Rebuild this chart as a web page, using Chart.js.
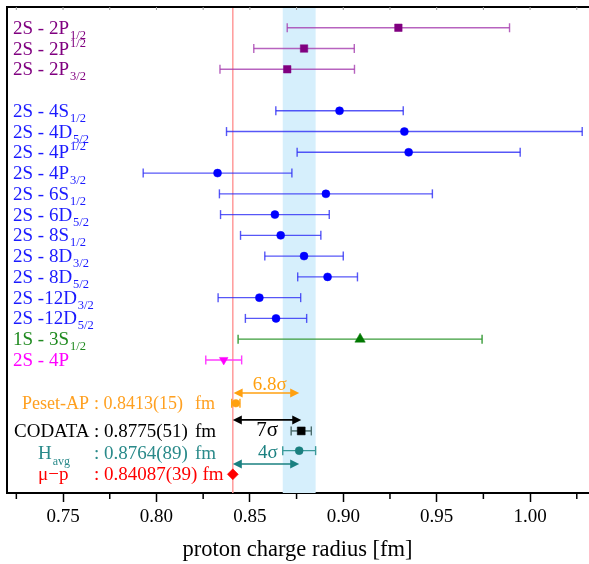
<!DOCTYPE html>
<html>
<head>
<meta charset="utf-8">
<script src="https://cdn.jsdelivr.net/npm/chart.js@4.4.1/dist/chart.umd.min.js"></script>
<style>
  body { margin: 0; background: #fff; }
  canvas { display: block; }
</style>
</head>
<body>
<canvas id="radius-chart" width="589" height="564"></canvas>
<script>
// transition rows (top part)
const rowNames = ['2S - 2P', '2S - 2P', '2S - 2P', '2S - 4S', '2S - 4D', '2S - 4P', '2S - 4P', '2S - 6S',
                  '2S - 6D', '2S - 8S', '2S - 8D', '2S - 8D', '2S -12D', '2S -12D', '1S - 3S', '2S - 4P'];
const rowSubs = ['1/2', '1/2', '3/2', '1/2', '5/2', '1/2', '3/2', '1/2', '5/2', '1/2', '3/2', '5/2', '3/2', '5/2', '1/2', ''];
const rowSubRaised = [false, true, false, false, false, true, false, false, false, false, false, false, false, false, false, false];
const rowSlots = [1, 2, 3, 5, 6, 7, 8, 9, 10, 11, 12, 13, 14, 15, 16, 17];
const rowValues = [0.9295, 0.879, 0.870, 0.898, 0.9327, 0.935, 0.8327, 0.8907, 0.8634, 0.8665, 0.879, 0.8916, 0.8551, 0.864, 0.909, 0.836];
const rowErrors = [0.0595, 0.0269, 0.036, 0.0341, 0.0952, 0.0597, 0.0398, 0.057, 0.0291, 0.0215, 0.021, 0.016, 0.0221, 0.0164, 0.0653, 0.0096];
const rowGroup = [0, 0, 0, 1, 1, 1, 1, 1, 1, 1, 1, 1, 1, 1, 2, 3];

// summary values (bottom part)
const summaryNames = ['Peset-AP', 'CODATA', 'H', 'μ−p'];
const summaryNameSubs = ['', '', 'avg', ''];
const summaryTexts = ['0.8413(15)', '0.8775(51)', '0.8764(89)', '0.84087(39)'];
const summaryValues = [0.8425, 0.8775, 0.8764, 0.84087];
const summaryErrors = [0.0022, 0.0054, 0.0088, 0];
const summarySlots = [19.09, 20.42, 21.37, 22.51];

// sigma arrows
const arrowLabels = ['6.8σ', '7σ', '4σ'];
const arrowFrom = [0.8413, 0.84087, 0.84087];
const arrowTo = [0.8764, 0.8775, 0.8764];
const arrowSlots = [18.59, 19.89, 22.01];
const arrowLabelValues = [0.8606, 0.8592, 0.8596];
const arrowLabelSlots = [18.21, 20.42, 21.48];

const majorTicks = [0.75, 0.80, 0.85, 0.90, 0.95, 1.00];
const minorTicks = [0.725, 0.775, 0.825, 0.875, 0.925, 0.975, 1.025];
const xTitle = 'proton charge radius [fm]';

const FONT = 'Liberation Serif';
const slotMax = 23.41;

const groupStyle = [
    { text: '#800080', point: '#800080', bar: 'rgba(165,60,175,0.8)', shape: 'rect', r: 5.3, rot: 0 },
    { text: '#1a1aff', point: '#0000ff', bar: 'rgba(45,45,245,0.8)', shape: 'circle', r: 4, rot: 0 },
    { text: '#1f8a1f', point: '#007800', bar: '#3a9c3a', shape: 'triangle', r: 6, rot: 0 },
    { text: '#ff00ff', point: '#ff00ff', bar: '#ff3cff', shape: 'triangle', r: 5, rot: 180 }
];
const summaryStyle = [
    { text: '#ffa020', point: '#ffa010', bar: '#ffa010', shape: 'circle', r: 3.8, size: 18 },
    { text: '#000000', point: '#000000', bar: '#4a6a6a', shape: 'rect', r: 5.6, size: 19 },
    { text: '#2a8a8a', point: '#1a7f7f', bar: '#3a9a9a', shape: 'circle', r: 4, size: 19 },
    { text: '#ff0000', point: '#ff0000', bar: '#ff0000', shape: 'rectRot', r: 5.5, size: 19 }
];
const arrowColors = ['#ffa010', '#000000', '#1a8080'];

function errorBarData(values, errors, slots) {
    const out = [];
    values.forEach((v, i) => {
        if (!errors[i]) return;
        out.push({ x: v - errors[i], y: slots[i] }, { x: v + errors[i], y: slots[i] }, { x: null, y: null });
    });
    return out;
}

function barDataset(data, color) {
    return {
        type: 'scatter', data, showLine: true, spanGaps: false,
        borderColor: color, borderWidth: 1.4,
        pointStyle: 'line', pointRotation: 90, pointRadius: 4.5, pointHoverRadius: 4.5,
        pointBorderColor: color, pointBorderWidth: 1.4, order: 2
    };
}

function markerDataset(data, st) {
    return {
        type: 'scatter', data, showLine: false,
        pointStyle: st.shape, pointRotation: st.rot || 0, pointRadius: st.r, pointHoverRadius: st.r,
        backgroundColor: st.point, borderColor: st.point, borderWidth: 0.5, order: 0
    };
}

const datasets = [];
// mu-p reference line
datasets.push({
    type: 'scatter', data: [{ x: summaryValues[3], y: 0 }, { x: summaryValues[3], y: slotMax }],
    showLine: true, borderColor: '#ff9a9a', borderWidth: 1.5, pointRadius: 0, order: 3
});
groupStyle.forEach((st, g) => {
    const idx = rowGroup.map((gg, i) => gg === g ? i : -1).filter(i => i >= 0);
    datasets.push(barDataset(errorBarData(idx.map(i => rowValues[i]), idx.map(i => rowErrors[i]), idx.map(i => rowSlots[i])), st.bar));
    datasets.push(markerDataset(idx.map(i => ({ x: rowValues[i], y: rowSlots[i] })), st));
});
summaryStyle.forEach((st, i) => {
    if (summaryErrors[i]) datasets.push(barDataset(errorBarData([summaryValues[i]], [summaryErrors[i]], [summarySlots[i]]), st.bar));
    datasets.push(markerDataset([{ x: summaryValues[i], y: summarySlots[i] }], st));
});

function arrowHead(ctx, tipX, py, dir) {
    const hl = 9, hw = 4.5;
    ctx.beginPath();
    ctx.moveTo(tipX, py);
    ctx.lineTo(tipX - dir * hl, py - hw);
    ctx.lineTo(tipX - dir * hl, py + hw);
    ctx.closePath();
    ctx.fill();
}

const overlay = {
    id: 'overlay',
    beforeDatasetsDraw(chart) {
        const { ctx, chartArea: a, scales: { x } } = chart;
        // H_avg band
        const lo = x.getPixelForValue(summaryValues[2] - summaryErrors[2]);
        const hi = x.getPixelForValue(summaryValues[2] + summaryErrors[2]);
        ctx.save();
        ctx.fillStyle = '#d6effc';
        ctx.fillRect(lo, a.top, hi - lo, a.bottom - a.top);
        ctx.restore();
    },
    afterDatasetsDraw(chart) {
        const { ctx, chartArea: a, scales: { x, y } } = chart;
        ctx.save();
        ctx.textBaseline = 'alphabetic';
        ctx.textAlign = 'left';

        // row labels with sub/superscripts
        rowNames.forEach((name, i) => {
            const py = y.getPixelForValue(rowSlots[i]);
            ctx.fillStyle = groupStyle[rowGroup[i]].text;
            ctx.font = `19px "${FONT}"`;
            ctx.fillText(name, 13, py + 6);
            const w = ctx.measureText(name).width;
            if (rowSubs[i]) {
                ctx.font = `12.5px "${FONT}"`;
                ctx.fillText(rowSubs[i], 13 + w + 1, rowSubRaised[i] ? py - 2 : py + 11);
            }
        });

        // summary lines
        const nameX = [22, 14, 38, 38];
        summaryNames.forEach((name, i) => {
            const py = y.getPixelForValue(summarySlots[i]) + (i === 2 ? 8 : 6);
            const font = `${summaryStyle[i].size}px "${FONT}"`;
            ctx.fillStyle = summaryStyle[i].text;
            ctx.font = font;
            ctx.fillText(name, nameX[i], py);
            if (summaryNameSubs[i]) {
                const w = ctx.measureText(name).width;
                ctx.font = `12px "${FONT}"`;
                ctx.fillText(summaryNameSubs[i], nameX[i] + w + 1, py + 6);
                ctx.font = font;
            }
            const valueText = ': ' + summaryTexts[i];
            ctx.fillText(valueText, 94, py);
            const end = 94 + ctx.measureText(valueText).width;
            ctx.fillText('fm', Math.max(195, end + 5), py);
        });

        // sigma arrows
        arrowLabels.forEach((lab, i) => {
            const x0 = x.getPixelForValue(arrowFrom[i]);
            const x1 = x.getPixelForValue(arrowTo[i]);
            const py = y.getPixelForValue(arrowSlots[i]);
            ctx.strokeStyle = arrowColors[i];
            ctx.fillStyle = arrowColors[i];
            ctx.lineWidth = 1.6;
            ctx.beginPath();
            ctx.moveTo(x0 + 8, py);
            ctx.lineTo(x1 - 8, py);
            ctx.stroke();
            arrowHead(ctx, x1, py, 1);
            arrowHead(ctx, x0, py, -1);
            ctx.font = `${i === 1 ? 21 : 19}px "${FONT}"`;
            ctx.textAlign = 'center';
            ctx.textBaseline = 'middle';
            ctx.fillText(lab, x.getPixelForValue(arrowLabelValues[i]), y.getPixelForValue(arrowLabelSlots[i]));
            ctx.textAlign = 'left';
            ctx.textBaseline = 'alphabetic';
        });

        // frame: left and top, minor ticks
        ctx.strokeStyle = '#000';
        ctx.lineWidth = 2;
        ctx.beginPath();
        ctx.moveTo(a.left, a.bottom);
        ctx.lineTo(a.left, a.top);
        ctx.lineTo(a.right + 1, a.top);
        ctx.stroke();
        ctx.lineWidth = 1.5;
        ctx.beginPath();
        minorTicks.forEach(v => {
            const px = x.getPixelForValue(v);
            ctx.moveTo(px, a.bottom);
            ctx.lineTo(px, a.bottom + 6);
        });
        ctx.stroke();
        ctx.strokeStyle = '#999';
        ctx.lineWidth = 1;
        ctx.beginPath();
        majorTicks.concat(minorTicks).forEach(v => {
            const px = x.getPixelForValue(v);
            ctx.moveTo(px, a.top);
            ctx.lineTo(px, a.top + 3);
        });
        ctx.stroke();
        ctx.restore();
    }
};

new Chart(document.getElementById('radius-chart'), {
    type: 'scatter',
    data: { datasets },
    options: {
        responsive: false,
        devicePixelRatio: 1,
        animation: false,
        events: [],
        layout: { autoPadding: false, padding: { left: 7, right: 1, top: 7, bottom: 0 } },
        plugins: { legend: { display: false }, tooltip: { enabled: false } },
        scales: {
            x: {
                type: 'linear', min: 0.72, max: 1.031,
                afterBuildTicks: s => { s.ticks = majorTicks.map(v => ({ value: v })); },
                afterFit: s => { s.height = 71; s.paddingLeft = 0; s.paddingRight = 0; },
                ticks: {
                    callback: v => v.toFixed(2), autoSkip: false, maxRotation: 0, padding: 4,
                    color: '#000', font: { family: FONT, size: 19 }
                },
                grid: { drawOnChartArea: false, tickLength: 9, tickWidth: 1.5, tickColor: '#000' },
                border: { color: '#000', width: 2 },
                title: { display: true, text: xTitle, color: '#000', font: { family: FONT, size: 22.5 }, padding: { top: 0, bottom: 0 } }
            },
            y: { type: 'linear', reverse: true, min: 0, max: slotMax, display: false }
        }
    },
    plugins: [overlay]
});
</script>
</body>
</html>
